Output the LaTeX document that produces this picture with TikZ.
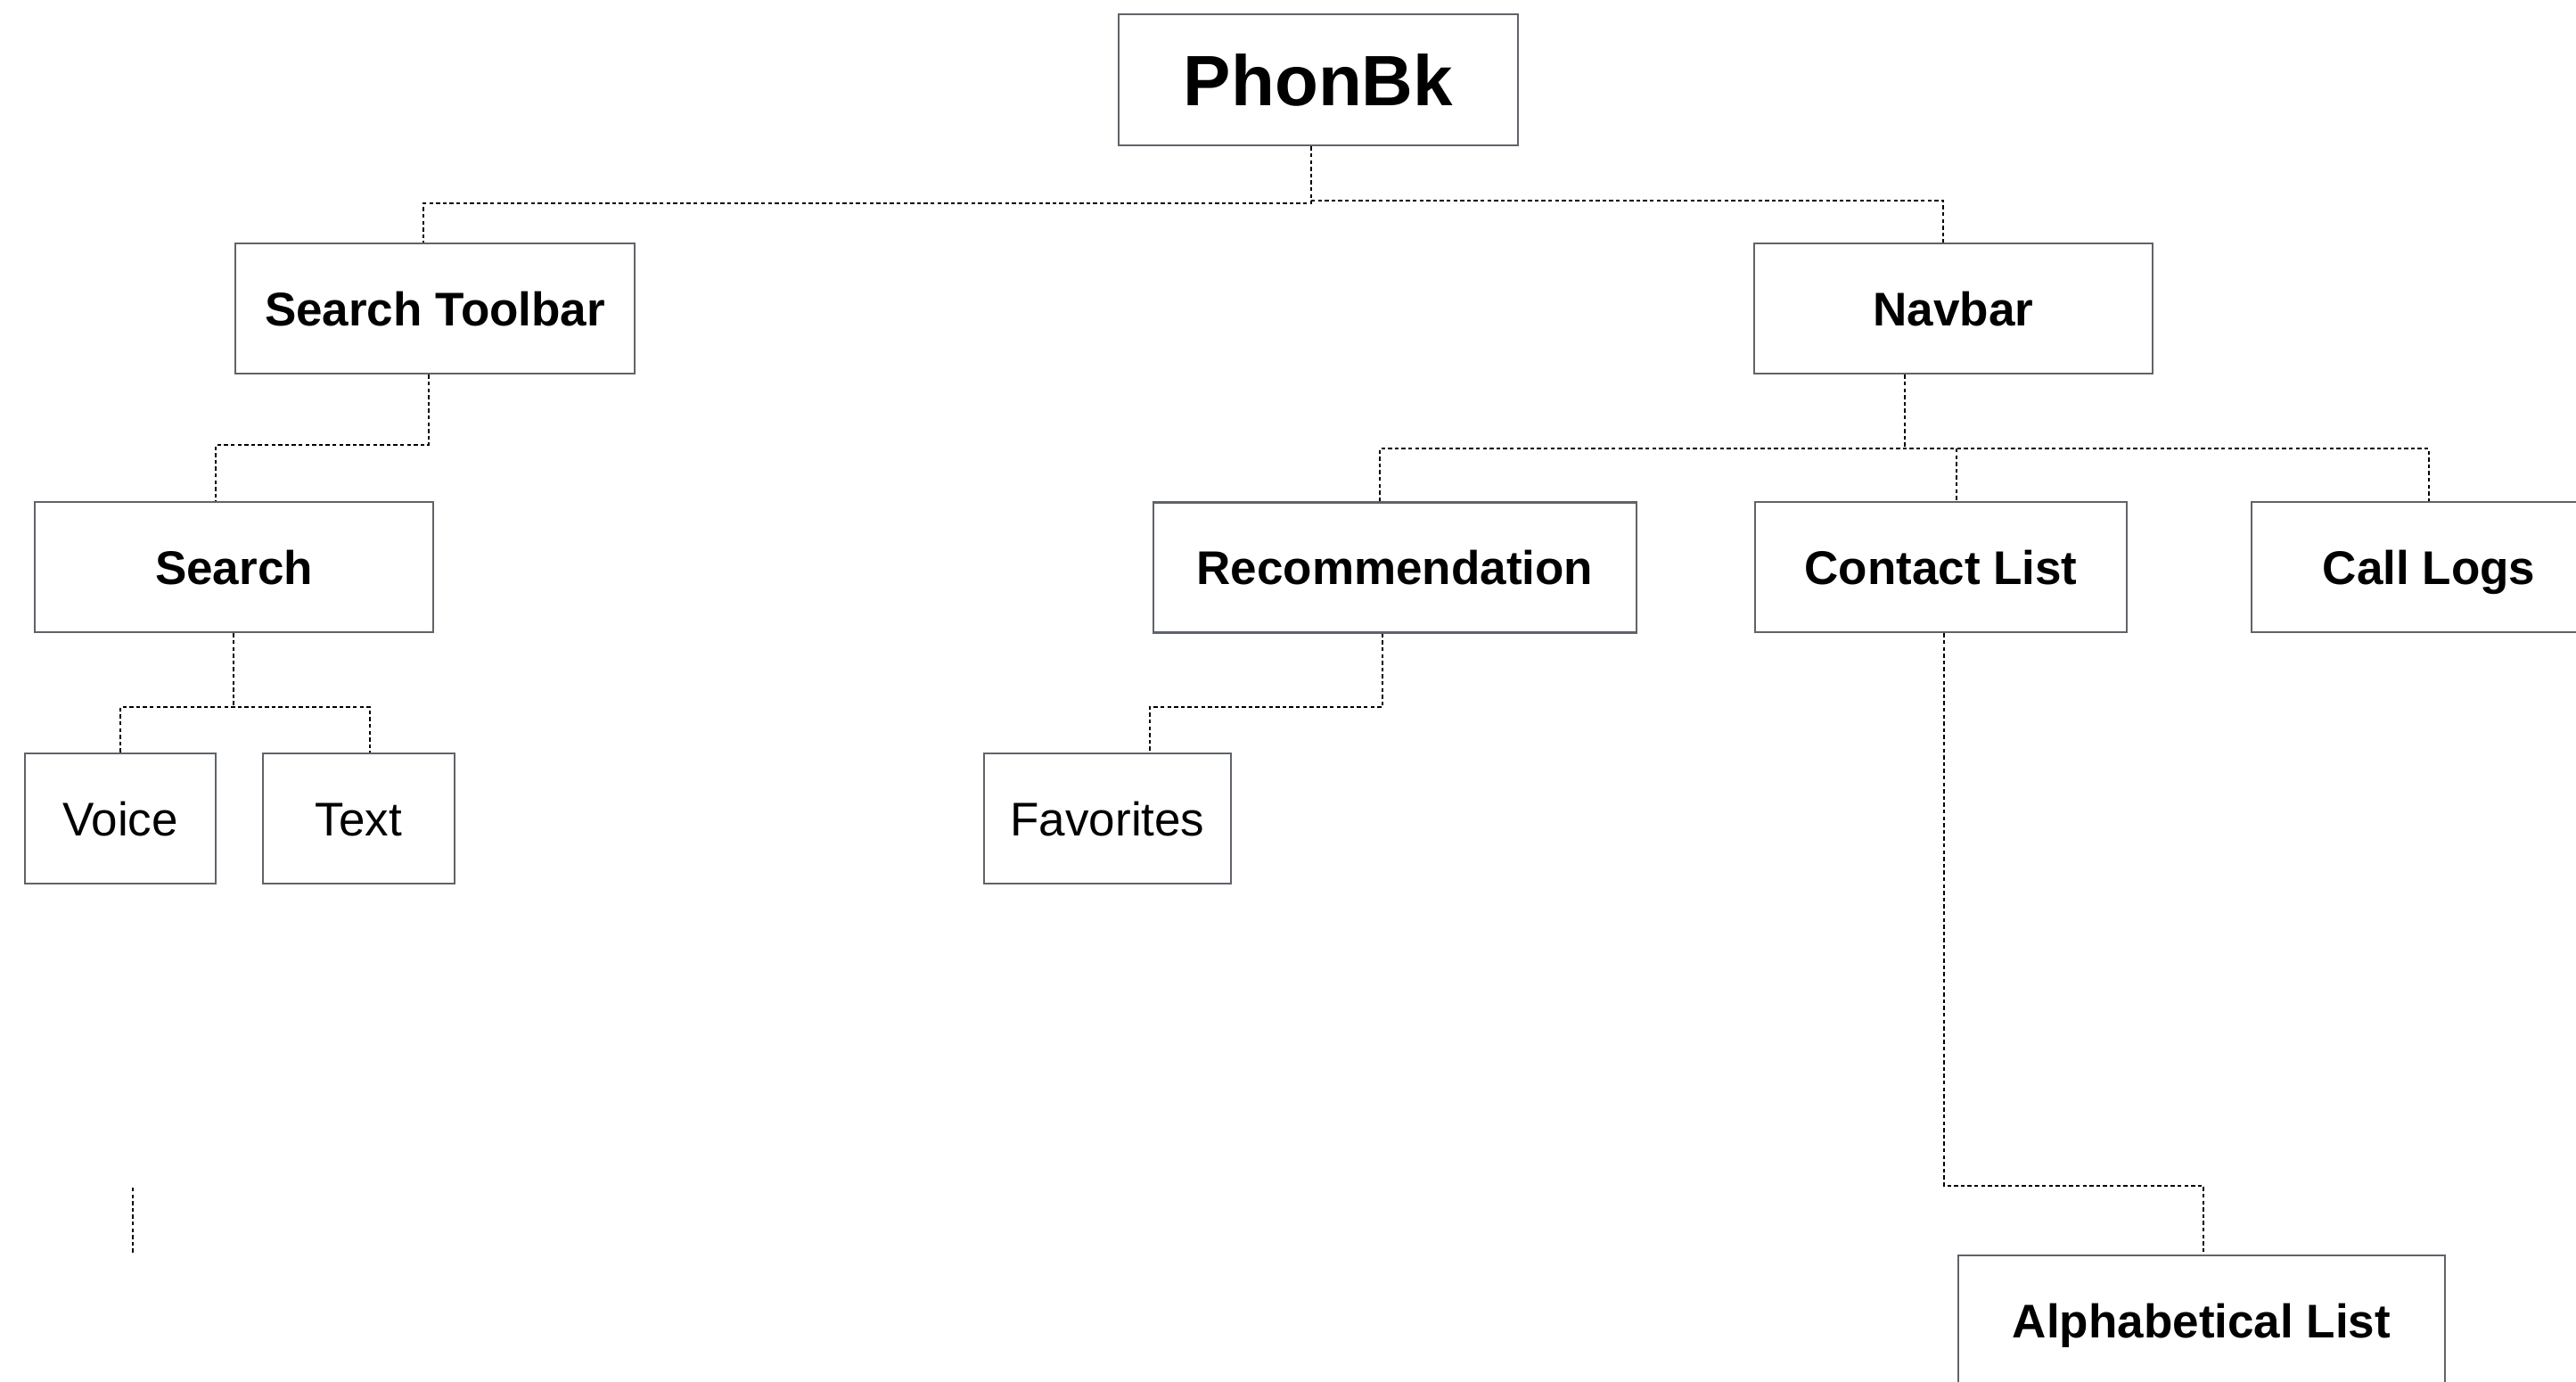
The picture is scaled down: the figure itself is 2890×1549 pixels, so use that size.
\documentclass[tikz,border=0pt]{standalone}
\usepackage{fontspec}
\setmainfont{Liberation Sans}
\definecolor{boxgray}{HTML}{5F6369}
\begin{document}
\begin{tikzpicture}[x=0.5pt,y=-0.5pt,
  box/.style={draw=boxgray, line width=1.3pt, rectangle, inner sep=0pt, text depth=0pt, align=center},
  bigbox/.style={box, text height=28.6pt, font=\fontsize{40pt}{48pt}\selectfont\bfseries},
  boldbox/.style={box, text height=19pt, font=\fontsize{26.5pt}{32pt}\selectfont\bfseries},
  lightbox/.style={box, text height=19pt, font=\fontsize{26.5pt}{32pt}\selectfont},
  link/.style={black, line width=1.2pt, dash pattern=on 2.2pt off 1.6pt}]
\useasboundingbox (0,0) rectangle (2890,1549);

% boxes
\node[bigbox, minimum width=224pt, minimum height=73.5pt] (phonbk) at (1479,89.5) {PhonBk};
\node[boldbox, minimum width=224pt, minimum height=73pt] (stb) at (488,346) {Search Toolbar};
\node[boldbox, minimum width=223.5pt, minimum height=73pt] (nav) at (2191.5,346) {Navbar};
\node[boldbox, minimum width=223.5pt, minimum height=73pt] (search) at (262.5,636) {Search};
\node[boldbox, minimum width=271pt, minimum height=73pt] (rec) at (1565,636.5) {Recommendation};
\node[boldbox, minimum width=208.5pt, minimum height=73pt] (contact) at (2177.5,636) {Contact List};
\node[boldbox, minimum width=199pt, minimum height=73pt] (calls) at (2725,636) {Call Logs};
\node[lightbox, minimum width=107pt, minimum height=73pt] (voice) at (135,918) {Voice};
\node[lightbox, minimum width=107.5pt, minimum height=73pt] (text) at (402.5,918) {Text};
\node[lightbox, minimum width=138.5pt, minimum height=73pt] (fav) at (1242.5,918) {Favorites};
\node[boldbox, minimum width=273pt, minimum height=73pt] (alpha) at (2470,1481) {Alphabetical List};

% junction coordinates
\coordinate (pA) at (1471,228);
\coordinate (pB) at (475,228);
\coordinate (pC) at (1471,225);
\coordinate (pD) at (2180,225);
\coordinate (sA) at (481,499);
\coordinate (sB) at (242,499);
\coordinate (qA) at (262,793);
\coordinate (qB) at (135,793);
\coordinate (qC) at (415,793);
\coordinate (nA) at (2137,503);
\coordinate (nB) at (1548,503);
\coordinate (nC) at (2195,503);
\coordinate (nD) at (2725,503);
\coordinate (rA) at (1551,793);
\coordinate (rB) at (1290,793);
\coordinate (cA) at (2181,1330);
\coordinate (cB) at (2472,1330);
\coordinate (st1) at (149,1332);
\coordinate (st2) at (149,1407);

% connectors
\draw[link] (phonbk.south -| pA) -- (pA) -- (pB) -- (pB |- stb.north);
\draw[link] (pC) -- (pD) -- (pD |- nav.north);
\draw[link] (stb.south -| sA) -- (sA) -- (sB) -- (sB |- search.north);
\draw[link] (search.south -| qA) -- (qA);
\draw[link] (qB |- voice.north) -- (qB) -- (qC) -- (qC |- text.north);
\draw[link] (nav.south -| nA) -- (nA);
\draw[link] (nB |- rec.north) -- (nB) -- (nD) -- (nD |- calls.north);
\draw[link] (nC) -- (nC |- contact.north);
\draw[link] (rec.south -| rA) -- (rA) -- (rB) -- (rB |- fav.north);
\draw[link] (contact.south -| cA) -- (cA) -- (cB) -- (cB |- alpha.north);
\draw[link] (st1) -- (st2);
\end{tikzpicture}
\end{document}
